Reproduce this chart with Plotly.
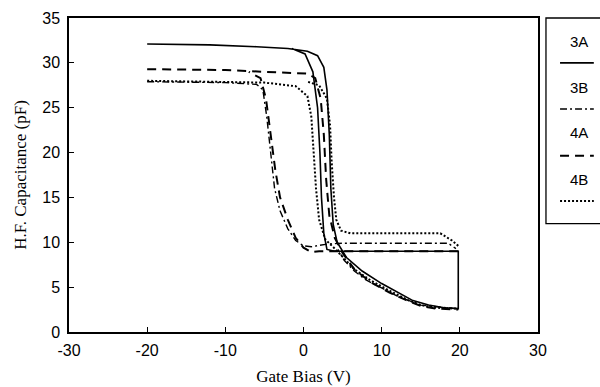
import plotly.graph_objects as go

# ---- data ----
V_3A = [-20, -12, -6, -2, 0.5, 1.8, 2.6, 3.0, 3.3, 3.5, 3.8, 4.3, 5.5, 7.5, 10, 12.5, 14, 16, 18, 19.8,
        19.8, 17, 12, 7, 4, 3.0, 2.6, 2.3, 2.1, 1.8, 1.2, 0.2, -1.5]
C_3A = [32.1, 32.0, 31.8, 31.6, 31.3, 30.8, 29.5, 27, 22, 16, 12, 10, 8.3, 6.8, 5.4, 4.2, 3.5, 3.0, 2.7, 2.6,
        9.0, 9.0, 9.0, 9.0, 9.0, 9.2, 11, 15, 20, 25, 29, 31, 31.6]

V_3B = [-20, -10, -6, -5.2, -4.7, -4.2, -3.7, -3.0, -2.0, -1.0, 0.0, 1.0, 3.0, 5, 10, 15, 18.5, 19.5,
        None, 19.5, 18.5, 15, 12, 10, 8, 6.5, 5.2, 4.4]
C_3B = [27.9, 27.8, 27.6, 27.0, 24, 20, 16, 13.5, 11.5, 10.2, 9.6, 9.5, 9.8, 9.9, 9.9, 9.9, 9.9, 9.3,
        None, 2.6, 2.7, 3.0, 4.0, 4.9, 5.8, 6.8, 8.0, 9.2]

V_4A = [-20, -10, -5, -2, 0.5, 1.5, 2.2, 2.6, 2.9, 3.3, 4.0, 5.0, 6.5, 8.5, 11, 13, 15, 17, 19.8,
        None, 19.8, 10, 2.0, 1.0, 0.0, -1.0, -2.0, -3.0, -3.6, -4.2, -4.8, -5.5, -7]
C_4A = [29.3, 29.2, 29.0, 28.9, 28.8, 28.3, 26, 22, 17, 13, 10.5, 8.8, 7.0, 5.6, 4.4, 3.6, 2.9, 2.6, 2.5,
        None, 9.0, 9.0, 9.0, 8.9, 9.4, 10.5, 12.5, 15, 18, 22, 26, 28.3, 29.0]

V_4B = [-20, -10, -5, -1, 0.5, 1.0, 1.3, 1.6, 2.0, 2.8, 4.0, 5.0, 6.5, 8.5, 11, 13.5, 15, 17, 19.8,
        None, 19.8, 19.0, 17.5, 10, 6, 4.8, 4.2, 3.9, 3.6, 3.4, 3.0, 2.0, 0.5]
C_4B = [28.0, 27.9, 27.8, 27.4, 26.3, 24, 20, 16, 12.5, 10.3, 9.3, 8.4, 7.0, 5.8, 4.6, 3.5, 3.0, 2.7, 2.6,
        None, 9.6, 10.2, 11.0, 11.0, 11.0, 11.3, 12.5, 15, 19, 23, 26, 27.5, 27.9]

series_names = ["3A", "3B", "4A", "4B"]
series_V = [V_3A, V_3B, V_4A, V_4B]
series_C = [C_3A, C_3B, C_4A, C_4B]
dashes = ["solid", "7px,3px,2px,3px", "9px,6px", "2px,2px"]
widths = [1.6, 1.4, 2.0, 2.0]

x_ticks = [-30, -20, -10, 0, 10, 20, 30]
y_ticks = [0, 5, 10, 15, 20, 25, 30, 35]

fig = go.Figure()
for n, v, c, d, w in zip(series_names, series_V, series_C, dashes, widths):
    fig.add_trace(go.Scatter(x=v, y=c, mode="lines", name=n, showlegend=False,
                             line=dict(color="black", width=w, dash=d)))

axis_common = dict(showgrid=False, zeroline=False, showline=True, linecolor="black", linewidth=1.5,
                   mirror=True, ticks="inside", ticklen=5, tickcolor="black", tickwidth=1.2,
                   automargin=False,
                   tickfont=dict(family="Liberation Sans, Arial", size=16, color="black"))
fig.update_layout(
    width=600, height=387,
    margin=dict(l=69, r=62, t=18, b=55),
    plot_bgcolor="white", paper_bgcolor="white",
    xaxis=dict(range=[-30, 30], tickvals=x_ticks, ticktext=[str(t) for t in x_ticks],
               ticklabelstandoff=3,
               title=dict(text="Gate Bias (V)", standoff=12,
                          font=dict(family="Liberation Serif, Times New Roman", size=17, color="black")),
               **axis_common),
    yaxis=dict(range=[0, 35], tickvals=y_ticks, ticktext=[str(t) for t in y_ticks],
               ticklabelstandoff=4,
               title=dict(text="H.F. Capacitance (pF)", standoff=11,
                          font=dict(family="Liberation Serif, Times New Roman", size=17, color="black")),
               **axis_common),
)

# ---- hand-drawn legend box (text above line sample) ----
fig.add_shape(type="rect", xref="paper", yref="paper", x0=1.017, x1=1.16, y0=0.345, y1=1.0,
              line=dict(color="black", width=1.3), fillcolor="white", layer="above")
text_y = [0.925, 0.780, 0.634, 0.487]
line_y = [0.857, 0.710, 0.561, 0.417]
for n, d, w, ty, ly in zip(series_names, dashes, widths, text_y, line_y):
    fig.add_annotation(xref="paper", yref="paper", x=1.087, y=ty, text=n, showarrow=False,
                       xanchor="center", yanchor="middle",
                       font=dict(family="Liberation Sans, Arial", size=15, color="black"))
    fig.add_shape(type="line", xref="paper", yref="paper", x0=1.047, x1=1.119, y0=ly, y1=ly,
                  line=dict(color="black", width=w, dash=d))

fig.write_html("out.html")
